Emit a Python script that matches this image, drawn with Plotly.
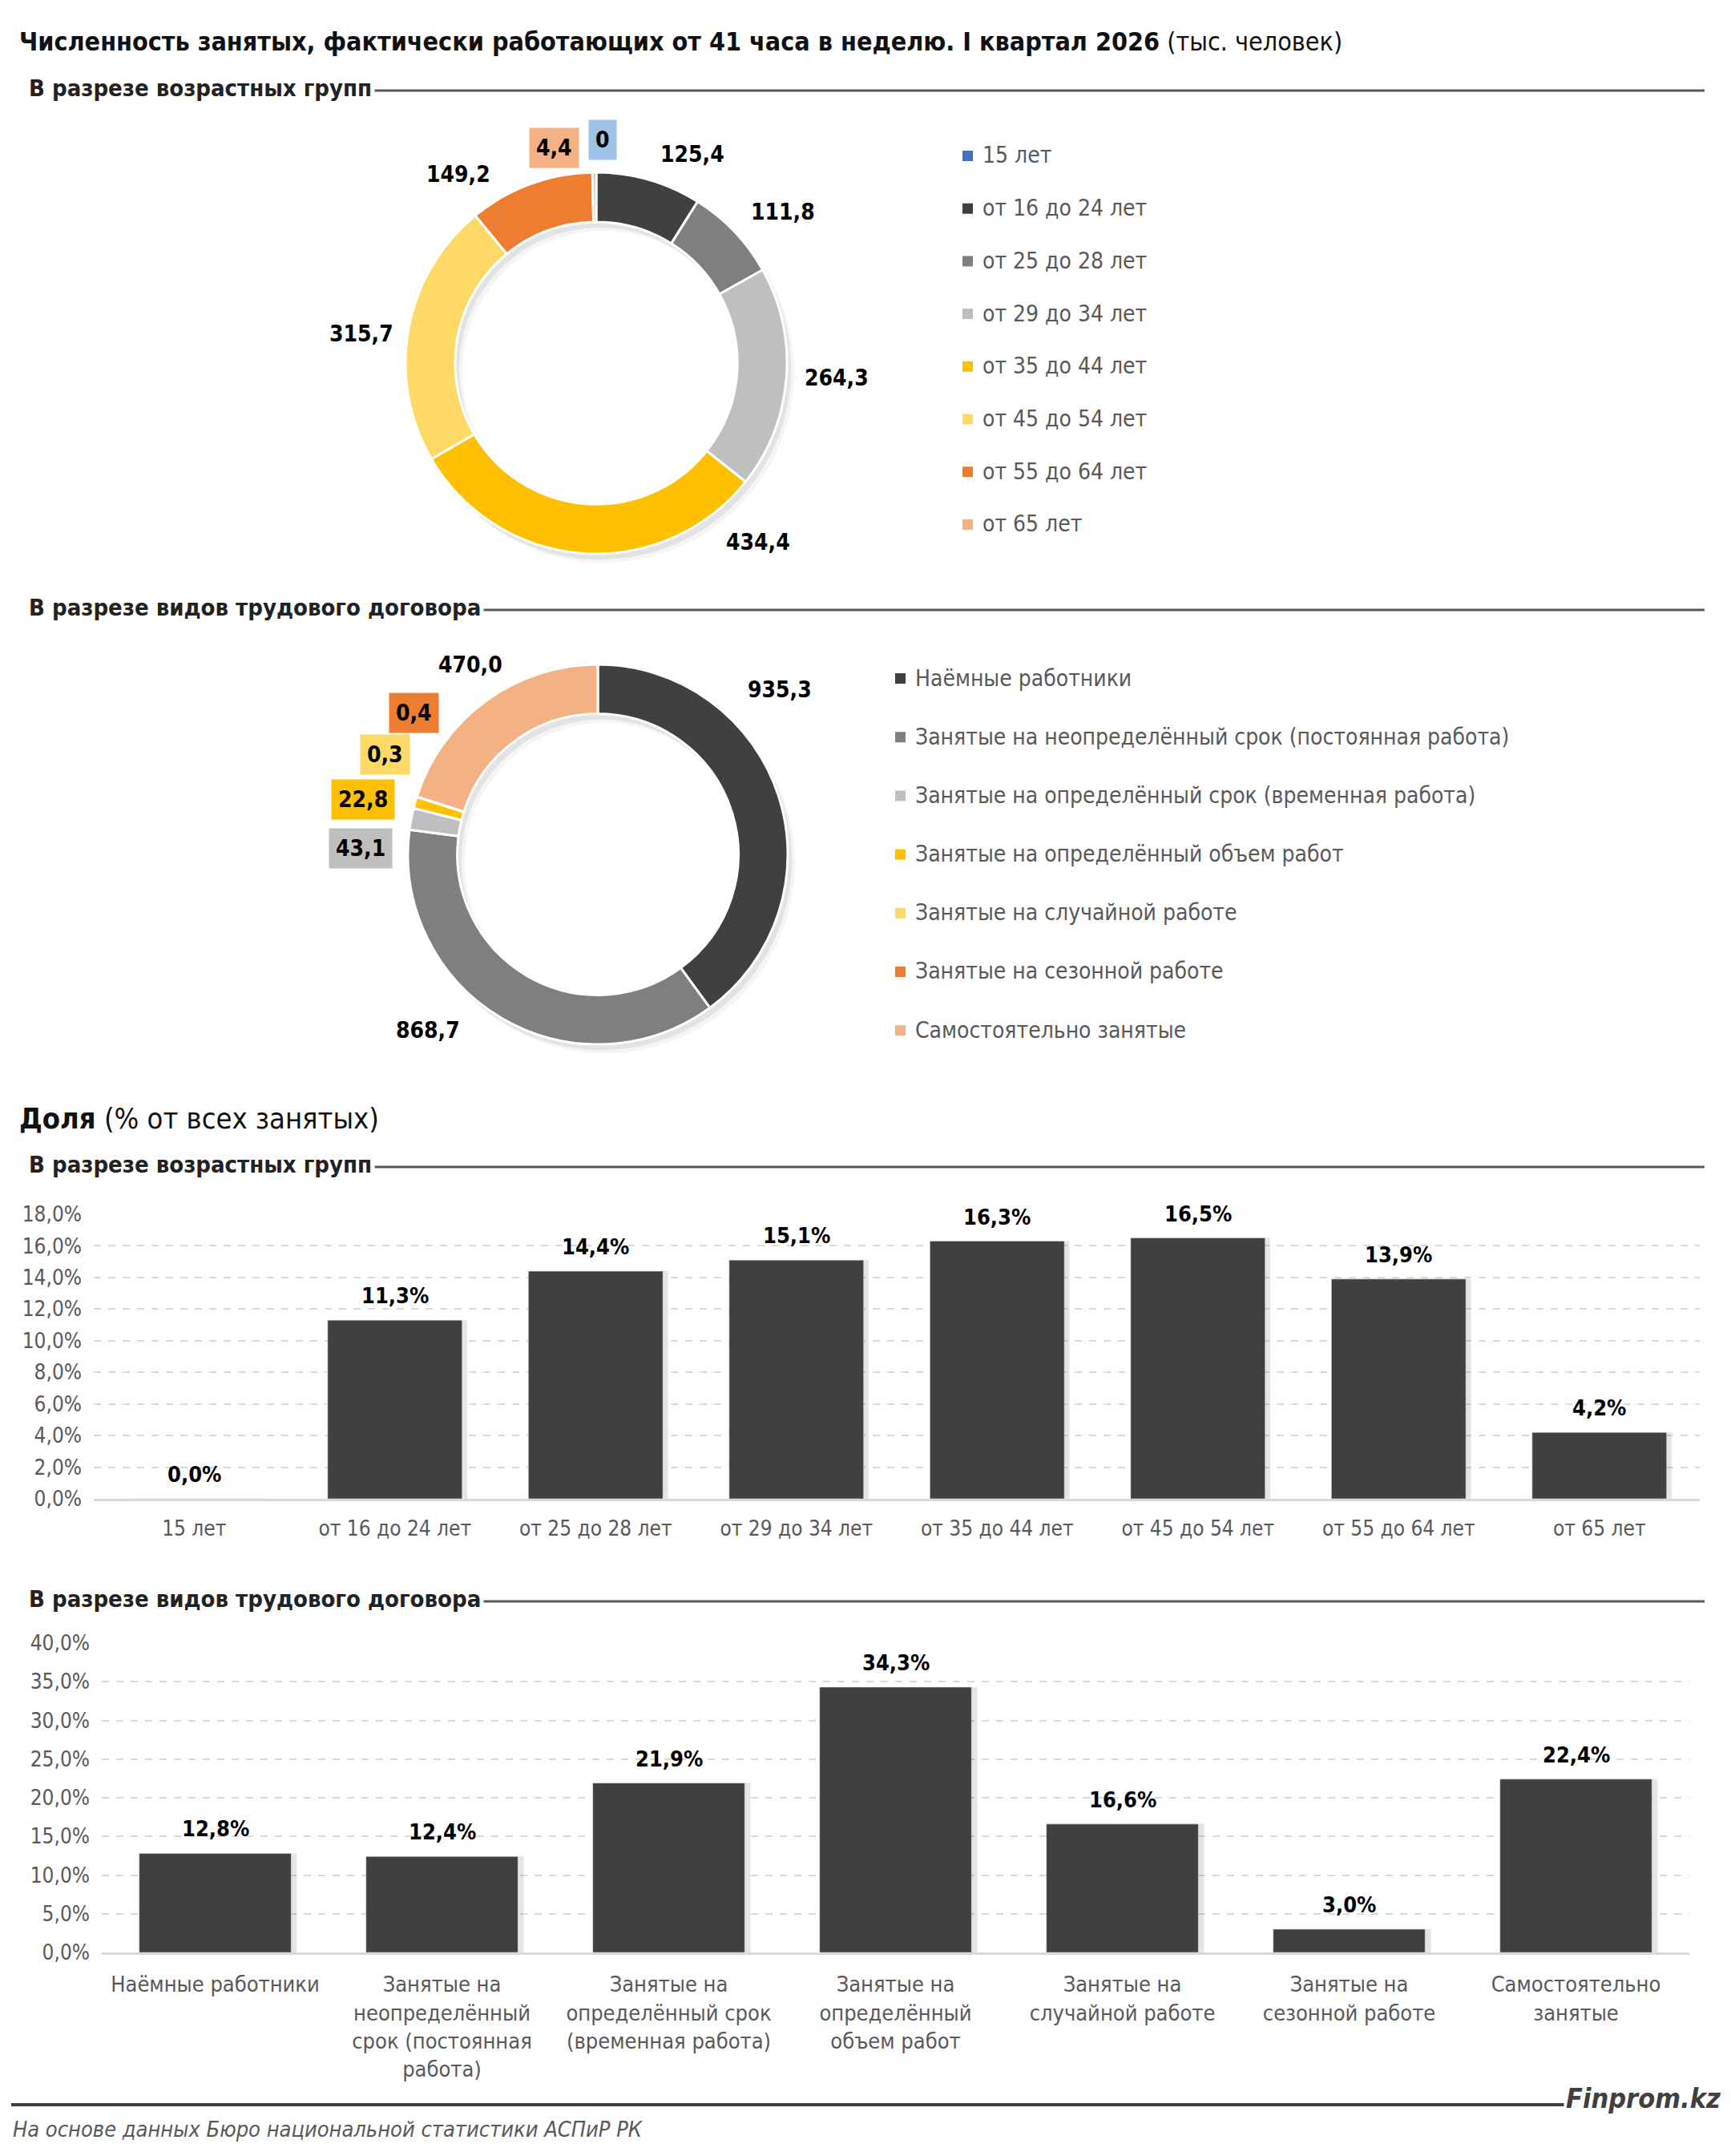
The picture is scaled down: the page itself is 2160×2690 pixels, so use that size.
import plotly.graph_objects as go

W, H = 2160, 2690
# the page body adds an 8px margin, so every pixel position is pulled back by it
OFF = 8
FONT = "Liberation Sans Narrow, DejaVu Sans Condensed, Roboto, sans-serif"

# --- data -----------------------------------------------------------------
age_groups = ["15 лет", "от 16 до 24 лет", "от 25 до 28 лет", "от 29 до 34 лет",
              "от 35 до 44 лет", "от 45 до 54 лет", "от 55 до 64 лет", "от 65 лет"]
age_values = [0, 125.4, 111.8, 264.3, 434.4, 315.7, 149.2, 4.4]
age_shares = [0.0, 11.3, 14.4, 15.1, 16.3, 16.5, 13.9, 4.2]

contract_types = ["Наёмные работники",
                  "Занятые на неопределённый срок (постоянная работа)",
                  "Занятые на определённый срок (временная работа)",
                  "Занятые на определённый объем работ",
                  "Занятые на случайной работе",
                  "Занятые на сезонной работе",
                  "Самостоятельно занятые"]
contract_values = [935.3, 868.7, 43.1, 22.8, 0.3, 0.4, 470.0]
contract_shares = [12.8, 12.4, 21.9, 34.3, 16.6, 3.0, 22.4]
contract_ticks = ["Наёмные работники",
                  "Занятые на<br>неопределённый<br>срок (постоянная<br>работа)",
                  "Занятые на<br>определённый срок<br>(временная работа)",
                  "Занятые на<br>определённый<br>объем работ",
                  "Занятые на<br>случайной работе",
                  "Занятые на<br>сезонной работе",
                  "Самостоятельно<br>занятые"]

# --- styles ---------------------------------------------------------------
AGE_COLORS = ["#4472C4", "#404040", "#7F7F7F", "#BFBFBF",
              "#FFC000", "#FFD966", "#ED7D31", "#F4B183"]
AGE_BOX = ["#9DC3E6", None, None, None, None, None, None, "#F4B183"]
CONTRACT_COLORS = ["#404040", "#7F7F7F", "#BFBFBF", "#FFC000",
                   "#FFD966", "#ED7D31", "#F4B183"]
CONTRACT_BOX = [None, None, "#BFBFBF", "#FFC000", "#FFD966", "#ED7D31", None]
BAR_COLOR = "#404040"
GRID = "#D9D9D9"
TEXT_GREY = "#595959"

# label offsets (px) from each ring's centre, placed by hand like in Excel
AGE_LABEL_POS = [(8, -278), (120, -261), (233, -189), (300, 18),
                 (202, 223), (-293, -37), (-172, -236), (-53, -268)]
CONTRACT_LABEL_POS = [(227, -205), (-212, 219), (-296, -7), (-293, -69),
                      (-266, -124), (-230, -177), (-159, -237)]


def fx(x):
    return (x - OFF) / W


def fy(y):
    return 1 - (y - OFF) / H


def ring_domain(cx, cy, r, dx=0, dy=0):
    return {"x": [fx(cx - r + dx), fx(cx + r + dx)],
            "y": [fy(cy + r + dy), fy(cy - r + dy)]}


def fmt(v):
    return "0" if v == 0 else f"{v:.1f}".replace(".", ",")


def note(x, y, text, size, color="black", xanchor="center", **kw):
    """Paper-anchored text placed by pixel position (vertically centred)."""
    return dict(x=fx(x), y=fy(y), xref="paper", yref="paper", showarrow=False,
                xanchor=xanchor, yanchor="middle", text=text,
                font={"size": size, "color": color, "family": FONT}, **kw)


def hline(x0, x1, y, color, width):
    return dict(type="line", xref="paper", yref="paper",
                x0=fx(x0), x1=fx(x1), y0=fy(y), y1=fy(y),
                line={"color": color, "width": width})


fig = go.Figure()
annotations = []
shapes = []


def add_ring(cx, cy, r, labels, values, colors, boxes, label_pos):
    # soft drop shadow under the ring
    for off, alpha in ((9, 0.04), (5, 0.07)):
        fig.add_trace(go.Pie(
            values=[1], labels=["shadow"], hole=0.74, sort=False,
            marker={"colors": [f"rgba(0,0,0,{alpha})"]},
            domain=ring_domain(cx, cy, r, off, off + 2),
            textinfo="none", hoverinfo="skip", showlegend=False,
        ))
    fig.add_trace(go.Pie(
        values=values, labels=labels, hole=0.74, sort=False,
        direction="clockwise", rotation=0,
        marker={"colors": colors, "line": {"color": "white", "width": 3}},
        domain=ring_domain(cx, cy, r),
        textinfo="none", showlegend=False,
        hovertemplate="%{label}: %{value}<extra></extra>",
    ))
    for v, box, (dx, dy) in zip(values, boxes, label_pos):
        annotations.append(note(
            cx + dx, cy + dy, f"<b>{fmt(v)}</b>", 28,
            bgcolor=box if box else "rgba(0,0,0,0)", borderpad=8 if box else 0,
        ))


def add_legend(x0, y0, step, labels, colors):
    for i, (lab, col) in enumerate(zip(labels, colors)):
        y = y0 + i * step
        shapes.append(dict(type="rect", xref="paper", yref="paper",
                           x0=fx(x0), x1=fx(x0 + 13), y0=fy(y + 7), y1=fy(y - 6),
                           fillcolor=col, line={"width": 0}))
        annotations.append(note(x0 + 23, y, lab, 28, TEXT_GREY, xanchor="left"))


def add_header(text, y, size=29):
    shapes.append(hline(60, 2127, y + 3, TEXT_GREY, 3))
    annotations.append(note(32, y, f"<b>{text}</b>", size, "#222222", xanchor="left",
                            bgcolor="white", borderpad=3))


# --- donuts -----------------------------------------------------------------
add_ring(744, 453, 238, age_groups, age_values, AGE_COLORS, AGE_BOX, AGE_LABEL_POS)
add_legend(1201, 194, 65.7, age_groups, AGE_COLORS)

add_ring(746, 1066, 237, contract_types, contract_values, CONTRACT_COLORS,
         CONTRACT_BOX, CONTRACT_LABEL_POS)
add_legend(1117, 846, 73.2, contract_types, CONTRACT_COLORS)

# --- bars -------------------------------------------------------------------
for cats, vals, xa, ya in ((age_groups, age_shares, "x", "y"),
                           (contract_ticks, contract_shares, "x2", "y2")):
    # faint shadow just right of each bar
    fig.add_trace(go.Bar(x=cats, y=vals, marker_color="rgba(0,0,0,0.10)",
                         width=0.67, offset=-0.31, xaxis=xa, yaxis=ya,
                         showlegend=False, hoverinfo="skip"))
    fig.add_trace(go.Bar(x=cats, y=vals, marker_color=BAR_COLOR, width=0.67,
                         offset=-0.335, xaxis=xa, yaxis=ya, showlegend=False,
                         hovertemplate="%{y:.1f}%<extra></extra>"))
    for cat, val in zip(cats, vals):
        annotations.append(dict(x=cat, y=val, xref=xa, yref=ya, showarrow=False,
                                yanchor="bottom", yshift=13,
                                text=f"<b>{val:.1f}%</b>".replace(".", ","),
                                font={"size": 27, "color": "black", "family": FONT}))

axis_font = {"size": 26, "color": TEXT_GREY, "family": FONT}
common_y = dict(tickformat=".1f", ticksuffix="%", gridcolor=GRID, griddash="dash",
                gridwidth=2, zeroline=False, tickfont=axis_font, ticklabelstandoff=14,
                fixedrange=True, automargin=False)
common_x = dict(showline=True, linecolor=GRID, linewidth=3, ticks="",
                fixedrange=True, automargin=False)

fig.update_layout(
    xaxis=dict(domain=[fx(117), fx(2121)], anchor="y", tickfont=axis_font,
               ticklabelstandoff=12, **common_x),
    yaxis=dict(domain=[fy(1870), fy(1515)], anchor="x", range=[0, 18],
               dtick=2, **common_y),
    xaxis2=dict(domain=[fx(127), fx(2108)], anchor="y2",
                tickfont={**axis_font, "size": 27}, ticklabelstandoff=14, **common_x),
    yaxis2=dict(domain=[fy(2436), fy(2050)], anchor="x2", range=[0, 40],
                dtick=5, **common_y),
)

# --- titles, section headers, footer ------------------------------------------
annotations.append(note(
    22, 52,
    "<b>Численность занятых, фактически работающих от 41 часа в неделю. I квартал 2026</b> (тыс. человек)",
    32, "#111111", xanchor="left"))
add_header("В разрезе возрастных групп", 110)
add_header("В разрезе видов трудового договора", 758)
annotations.append(note(22, 1395, "<b>Доля</b> (% от всех занятых)", 36, "#111111",
                        xanchor="left"))
add_header("В разрезе возрастных групп", 1453)
add_header("В разрезе видов трудового договора", 1995)

shapes.append(hline(14, 2100, 2626, "#404040", 4))
annotations.append(note(2150, 2618, "<b><i>Finprom.kz</i></b>", 34, "#404040",
                        xanchor="right", bgcolor="white", borderpad=2))
annotations.append(note(14, 2656, "<i>На основе данных Бюро национальной статистики АСПиР РК</i>",
                        27, TEXT_GREY, xanchor="left"))

fig.update_layout(
    width=W, height=H, margin={"l": 0, "r": 0, "t": 0, "b": 0, "autoexpand": False},
    paper_bgcolor="white", plot_bgcolor="white",
    separators=", ", barmode="overlay",
    annotations=annotations, shapes=shapes,
    font={"family": FONT},
)

fig.write_html("out.html")
